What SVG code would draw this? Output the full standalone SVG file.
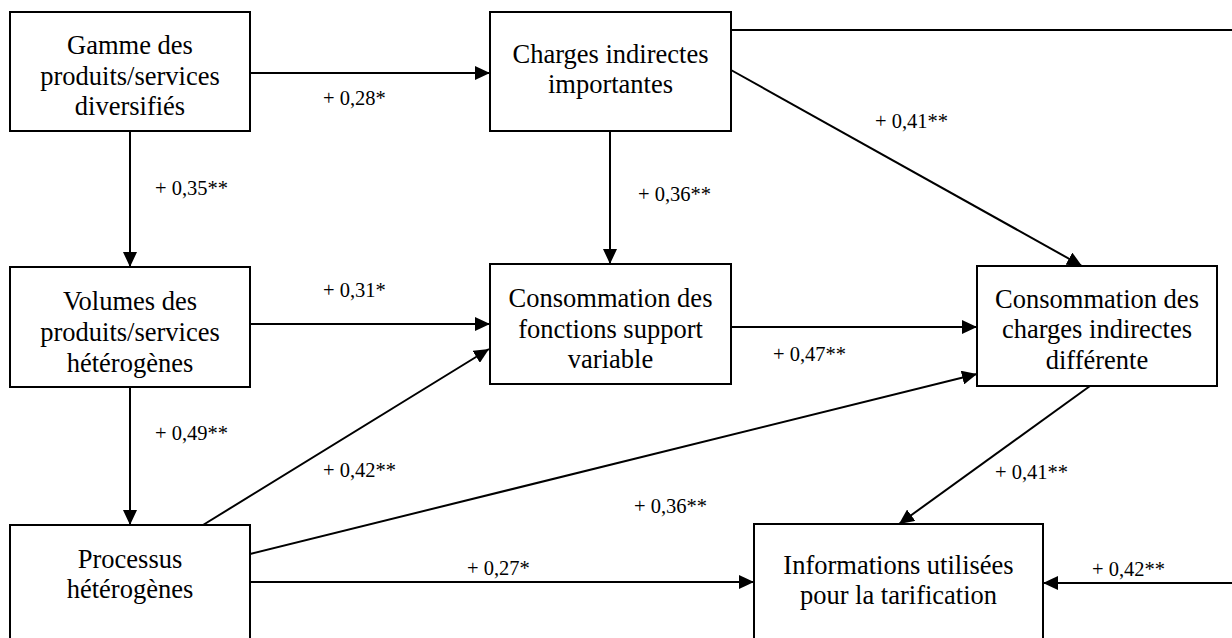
<svg xmlns="http://www.w3.org/2000/svg" width="1232" height="638" viewBox="0 0 1232 638">
  <defs>
    <marker id="head" markerUnits="userSpaceOnUse" markerWidth="15" markerHeight="14" refX="15" refY="7" orient="auto">
      <path d="M0,0 L15,7 L0,14 Z" fill="#000"/>
    </marker>
  </defs>
  <rect width="1232" height="638" fill="#fff"/>

  <g id="connectors" fill="none" stroke="#000" stroke-width="2">
    <path d="M250,73 L490,73" marker-end="url(#head)"/>
    <path d="M130,131 L130,267" marker-end="url(#head)"/>
    <path d="M610,131 L610,264" marker-end="url(#head)"/>
    <path d="M731,70 L1082,266" marker-end="url(#head)"/>
    <path d="M731,30 L1240,30"/>
    <path d="M250,324 L490,324" marker-end="url(#head)"/>
    <path d="M130,387 L130,525" marker-end="url(#head)"/>
    <path d="M203,525 L489,349" marker-end="url(#head)"/>
    <path d="M250,554 L977,374" marker-end="url(#head)"/>
    <path d="M250,582 L754,582" marker-end="url(#head)"/>
    <path d="M731,327 L977,327" marker-end="url(#head)"/>
    <path d="M1090,386 L899,524" marker-end="url(#head)"/>
    <path d="M1240,583 L1043,583" marker-end="url(#head)"/>
  </g>

  <g id="edge-labels">
    <text font-family="Liberation Serif" font-size="20.5" fill="#000" stroke="none" x="155" y="195">+ 0,35**</text>
    <text font-family="Liberation Serif" font-size="20.5" fill="#000" stroke="none" x="323" y="105">+ 0,28*</text>
    <text font-family="Liberation Serif" font-size="20.5" fill="#000" stroke="none" x="875" y="128">+ 0,41**</text>
    <text font-family="Liberation Serif" font-size="20.5" fill="#000" stroke="none" x="638" y="201">+ 0,36**</text>
    <text font-family="Liberation Serif" font-size="20.5" fill="#000" stroke="none" x="323" y="297">+ 0,31*</text>
    <text font-family="Liberation Serif" font-size="20.5" fill="#000" stroke="none" x="773" y="361">+ 0,47**</text>
    <text font-family="Liberation Serif" font-size="20.5" fill="#000" stroke="none" x="155" y="440">+ 0,49**</text>
    <text font-family="Liberation Serif" font-size="20.5" fill="#000" stroke="none" x="323" y="477">+ 0,42**</text>
    <text font-family="Liberation Serif" font-size="20.5" fill="#000" stroke="none" x="995" y="479">+ 0,41**</text>
    <text font-family="Liberation Serif" font-size="20.5" fill="#000" stroke="none" x="634" y="513">+ 0,36**</text>
    <text font-family="Liberation Serif" font-size="20.5" fill="#000" stroke="none" x="467" y="575">+ 0,27*</text>
    <text font-family="Liberation Serif" font-size="20.5" fill="#000" stroke="none" x="1092" y="576">+ 0,42**</text>
  </g>

  <g id="gamme">
    <rect x="10" y="12" width="240" height="119" fill="#fff" stroke="#000" stroke-width="2"/>
    <text font-family="Liberation Serif" font-size="26.5" text-anchor="middle" fill="#000" x="130" y="54">Gamme des</text>
    <text font-family="Liberation Serif" font-size="26.5" text-anchor="middle" fill="#000" x="130" y="85">produits/services</text>
    <text font-family="Liberation Serif" font-size="26.5" text-anchor="middle" fill="#000" x="130" y="115">diversifiés</text>
  </g>

  <g id="charges-indirectes">
    <rect x="490" y="12" width="241" height="119" fill="#fff" stroke="#000" stroke-width="2"/>
    <text font-family="Liberation Serif" font-size="26.5" text-anchor="middle" fill="#000" x="610.5" y="63">Charges indirectes</text>
    <text font-family="Liberation Serif" font-size="26.5" text-anchor="middle" fill="#000" x="610.5" y="93">importantes</text>
  </g>

  <g id="volumes">
    <rect x="10" y="267" width="240" height="120" fill="#fff" stroke="#000" stroke-width="2"/>
    <text font-family="Liberation Serif" font-size="26.5" text-anchor="middle" fill="#000" x="130" y="310">Volumes des</text>
    <text font-family="Liberation Serif" font-size="26.5" text-anchor="middle" fill="#000" x="130" y="341">produits/services</text>
    <text font-family="Liberation Serif" font-size="26.5" text-anchor="middle" fill="#000" x="130" y="372">hétérogènes</text>
  </g>

  <g id="consommation-fonctions">
    <rect x="490" y="264" width="241" height="120" fill="#fff" stroke="#000" stroke-width="2"/>
    <text font-family="Liberation Serif" font-size="26.5" text-anchor="middle" fill="#000" x="610.5" y="307">Consommation des</text>
    <text font-family="Liberation Serif" font-size="26.5" text-anchor="middle" fill="#000" x="610.5" y="338">fonctions support</text>
    <text font-family="Liberation Serif" font-size="26.5" text-anchor="middle" fill="#000" x="610.5" y="368">variable</text>
  </g>

  <g id="consommation-charges">
    <rect x="977" y="266" width="240" height="120" fill="#fff" stroke="#000" stroke-width="2"/>
    <text font-family="Liberation Serif" font-size="26.5" text-anchor="middle" fill="#000" x="1097" y="308">Consommation des</text>
    <text font-family="Liberation Serif" font-size="26.5" text-anchor="middle" fill="#000" x="1097" y="338">charges indirectes</text>
    <text font-family="Liberation Serif" font-size="26.5" text-anchor="middle" fill="#000" x="1097" y="369">différente</text>
  </g>

  <g id="processus">
    <rect x="10" y="525" width="240" height="130" fill="#fff" stroke="#000" stroke-width="2"/>
    <text font-family="Liberation Serif" font-size="26.5" text-anchor="middle" fill="#000" x="130" y="568">Processus</text>
    <text font-family="Liberation Serif" font-size="26.5" text-anchor="middle" fill="#000" x="130" y="598">hétérogènes</text>
  </g>

  <g id="informations">
    <rect x="754" y="524" width="289" height="130" fill="#fff" stroke="#000" stroke-width="2"/>
    <text font-family="Liberation Serif" font-size="26.5" text-anchor="middle" fill="#000" x="898.5" y="574">Informations utilisées</text>
    <text font-family="Liberation Serif" font-size="26.5" text-anchor="middle" fill="#000" x="898.5" y="604">pour la tarification</text>
  </g>
</svg>
